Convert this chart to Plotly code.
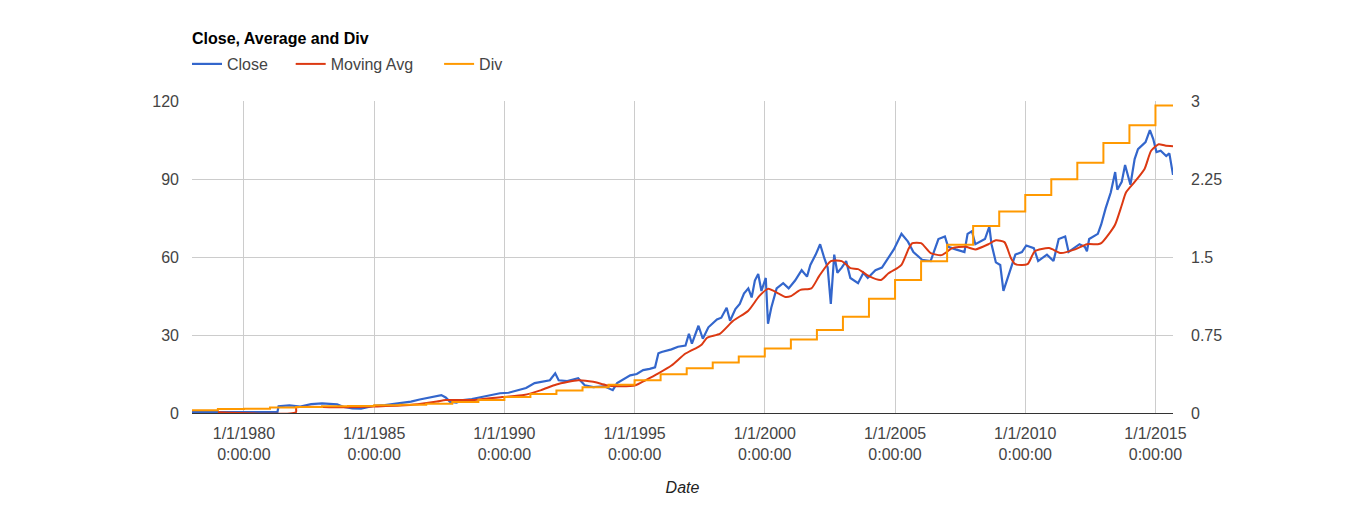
import plotly.graph_objects as go

# ---------------- data ----------------
close_dates = [
    "1978-01-03", "1979-06-01", "1981-04-15", "1981-05-01", "1981-10-01", "1982-03-01",
    "1982-08-01", "1983-01-01", "1983-05-01", "1983-08-01", "1983-11-01", "1984-03-01",
    "1984-07-01", "1984-10-01", "1985-01-01", "1985-06-01", "1985-10-01", "1986-02-01",
    "1986-06-01", "1986-10-01", "1987-02-01", "1987-05-01", "1987-08-01", "1987-10-01",
    "1987-12-01", "1988-03-01", "1988-06-01", "1988-10-01", "1989-03-01", "1989-07-01",
    "1989-11-01", "1990-03-01", "1990-07-01", "1990-11-01", "1991-03-01", "1991-07-01",
    "1991-10-01", "1991-12-15", "1992-02-01", "1992-06-01", "1992-11-01", "1993-02-01",
    "1993-06-01", "1993-11-01", "1994-03-01", "1994-05-01", "1994-08-01", "1994-11-01",
    "1995-02-01", "1995-05-01", "1995-08-01", "1995-10-15", "1995-12-01", "1996-01-15",
    "1996-06-01", "1996-09-01", "1996-12-15", "1997-02-01", "1997-03-15", "1997-06-15",
    "1997-08-15", "1997-11-01", "1998-03-01", "1998-05-01", "1998-07-15", "1998-09-01",
    "1998-11-15", "1999-01-15", "1999-03-15", "1999-05-15", "1999-07-01", "1999-08-15",
    "1999-10-01", "1999-11-15", "2000-01-15", "2000-02-15", "2000-04-01", "2000-06-15",
    "2000-09-15", "2000-12-01", "2001-03-01", "2001-06-01", "2001-08-15", "2001-10-01",
    "2001-12-15", "2002-02-15", "2002-04-15", "2002-06-01", "2002-07-15", "2002-09-01",
    "2002-10-15", "2002-12-15", "2003-02-15", "2003-04-15", "2003-08-01", "2003-10-15",
    "2003-12-15", "2004-04-01", "2004-07-01", "2004-10-01", "2004-12-15", "2005-04-01",
    "2005-07-01", "2005-09-15", "2006-01-15", "2006-05-15", "2006-09-01", "2006-12-01",
    "2007-01-15", "2007-05-01", "2007-09-01", "2007-10-15", "2007-12-15", "2008-02-01",
    "2008-06-15", "2008-08-15", "2008-09-15", "2008-11-15", "2009-01-15", "2009-03-01",
    "2009-05-15", "2009-08-15", "2009-11-15", "2010-01-15", "2010-05-01", "2010-07-01",
    "2010-11-01", "2011-02-01", "2011-04-15", "2011-07-15", "2011-09-01", "2012-02-01",
    "2012-04-15", "2012-05-15", "2012-06-15", "2012-10-15", "2012-12-01", "2013-02-01",
    "2013-04-15", "2013-06-15", "2013-07-15", "2013-09-15", "2013-11-01", "2014-01-15",
    "2014-03-15", "2014-05-01", "2014-08-15", "2014-10-15", "2014-12-01", "2015-01-15",
    "2015-03-15", "2015-06-01", "2015-07-15", "2015-09-04",
]
close_values = [
    0.3, 0.3, 0.3, 2.6, 2.9, 2.5,
    3.4, 3.7, 3.5, 3.3, 2.3, 1.8,
    1.7, 2.2, 2.8, 3.0, 3.4, 3.9,
    4.4, 5.2, 6.0, 6.3, 6.9, 6.0,
    4.3, 4.0, 5.0, 5.4, 6.2, 6.8,
    7.6, 7.8, 8.8, 9.6, 11.5, 12.2,
    12.6, 15.3, 12.6, 12.3, 13.4, 10.7,
    10.0, 10.3, 8.8, 11.5, 13.0, 14.5,
    15.0, 16.5, 17.0, 17.6, 23.0, 23.5,
    24.5, 25.5, 26.0, 30.5, 26.7, 33.6,
    28.6, 33.0, 36.0, 36.7, 40.5, 35.5,
    40.0, 42.0, 46.0, 48.0, 44.5, 51.0,
    53.5, 47.0, 52.0, 34.4, 40.5, 48.0,
    50.0, 48.0, 51.0, 55.0, 52.5, 57.0,
    61.0, 65.0, 59.6, 56.0, 42.0, 61.0,
    54.0, 56.0, 58.5, 52.0, 50.0, 54.0,
    52.0, 55.0, 56.0, 60.0, 63.0, 69.0,
    66.0, 62.0, 59.0, 58.5, 67.0, 68.0,
    64.0, 63.0, 62.0, 69.0, 70.0, 65.0,
    67.0, 71.8, 65.0, 58.0, 57.0, 47.0,
    53.5, 61.0, 62.0, 64.5, 63.5, 58.5,
    61.0, 58.5, 67.0, 68.0, 62.0, 65.0,
    64.0, 62.3, 67.0, 69.0, 72.6, 78.8,
    85.0, 92.8, 86.0, 89.0, 95.5, 87.9,
    97.8, 101.6, 104.3, 108.9, 105.5, 100.5,
    101.0, 99.0, 100.0, 91.7,
]

avg_dates = [
    "1979-01-01", "1981-12-31", "1982-01-05", "1983-06-01", "1984-06-01", "1985-01-01",
    "1986-01-01", "1986-09-01", "1987-06-01", "1987-10-01", "1988-10-01", "1989-12-01",
    "1990-10-01", "1991-06-01", "1992-01-01", "1992-11-01", "1993-06-01", "1993-12-01",
    "1994-05-01", "1995-01-15", "1995-06-01", "1995-12-01", "1996-06-01", "1996-12-15",
    "1997-06-15", "1997-08-01", "1997-10-15", "1998-04-15", "1998-10-15", "1999-05-15",
    "1999-10-15", "2000-02-15", "2000-07-15", "2000-10-15", "2001-01-01", "2001-05-15",
    "2001-10-15", "2002-02-01", "2002-07-15", "2002-12-15", "2003-04-15", "2003-08-01",
    "2004-01-01", "2004-06-15", "2004-10-01", "2005-02-01", "2005-04-01", "2005-07-15",
    "2005-09-01", "2006-01-01", "2006-05-15", "2006-10-15", "2007-03-15", "2007-09-15",
    "2008-02-01", "2008-08-01", "2008-11-15", "2009-03-15", "2009-06-15", "2009-08-15",
    "2010-02-01", "2010-05-15", "2010-12-01", "2011-05-15", "2011-12-01", "2012-05-15",
    "2012-10-15", "2012-12-01", "2013-03-15", "2013-06-15", "2013-09-15", "2013-11-15",
    "2014-03-15", "2014-08-01", "2014-11-01", "2015-02-15", "2015-05-15", "2015-09-04",
]
avg_values = [
    0.3, 0.3, 2.1, 2.2, 2.3, 2.5,
    2.9, 3.4, 4.4, 5.0, 5.0, 6.2,
    6.9, 8.8, 11.0, 12.6, 12.0, 10.7,
    10.3, 10.7, 12.6, 15.3, 18.3, 22.9,
    25.5, 26.4, 29.0, 30.6, 35.5, 39.4,
    45.0, 47.8, 46.0, 44.7, 45.0, 47.4,
    48.0, 52.7, 58.5, 58.5, 55.8, 55.4,
    52.7, 51.2, 53.8, 55.8, 57.0, 63.5,
    65.4, 65.4, 61.6, 60.8, 63.5, 64.0,
    63.0, 65.0, 66.5, 65.8, 59.6, 57.3,
    57.3, 62.3, 63.5, 61.6, 63.0, 65.0,
    65.0, 65.4, 68.8, 72.6, 80.0, 85.0,
    89.0, 94.0, 101.0, 103.5, 103.0, 102.7,
]

div_dates = [
    "1978-01-03", "1979-01-01", "1980-01-01", "1981-01-01", "1982-01-01", "1983-01-01",
    "1984-01-01", "1985-01-01", "1986-01-01", "1987-01-01", "1988-01-01", "1989-01-01",
    "1990-01-01", "1991-01-01", "1992-01-01", "1993-01-01", "1994-01-01", "1995-01-01",
    "1996-01-01", "1997-01-01", "1998-01-01", "1999-01-01", "2000-01-01", "2001-01-01",
    "2002-01-01", "2003-01-01", "2004-01-01", "2005-01-01", "2006-01-01", "2007-01-01",
    "2008-01-01", "2009-01-01", "2010-01-01", "2011-01-01", "2012-01-01", "2013-01-01",
    "2014-01-01", "2015-01-01", "2015-09-04",
]
div_values = [
    0.026, 0.038, 0.040, 0.054, 0.058, 0.064,
    0.068, 0.074, 0.080, 0.090, 0.105, 0.125,
    0.153, 0.184, 0.216, 0.248, 0.272, 0.315,
    0.373, 0.430, 0.487, 0.545, 0.620, 0.707,
    0.800, 0.927, 1.100, 1.280, 1.460, 1.620,
    1.800, 1.940, 2.100, 2.250, 2.410, 2.600,
    2.770, 2.960, 2.960,
]

x_tick_dates = ["1980-01-01", "1985-01-01", "1990-01-01", "1995-01-01",
                "2000-01-01", "2005-01-01", "2010-01-01", "2015-01-01"]
x_tick_labels = ["1/1/1980<br>0:00:00", "1/1/1985<br>0:00:00", "1/1/1990<br>0:00:00",
                 "1/1/1995<br>0:00:00", "1/1/2000<br>0:00:00", "1/1/2005<br>0:00:00",
                 "1/1/2010<br>0:00:00", "1/1/2015<br>0:00:00"]
left_ticks = [0, 30, 60, 90, 120]
right_ticks = [0, 0.75, 1.5, 2.25, 3]
right_tick_labels = ["0", "0.75", "1.5", "2.25", "3"]
series_names = ["Close", "Moving Avg", "Div"]

# ---------------- figure ----------------
# The page body has an 8px margin, so figure coordinates are offset by (8, 8).
FONT = "Arial, 'Liberation Sans', sans-serif"
W, H = 1366, 511
NB = "\u00a0"
legend_labels = [series_names[0] + NB * 4,
                 series_names[1] + NB * 4 + "\u2009",
                 series_names[2]]

fig = go.Figure()
fig.add_trace(go.Scatter(x=close_dates, y=close_values, name=legend_labels[0], mode="lines",
                         line=dict(color="#3366cc", width=2.2)))
fig.add_trace(go.Scatter(x=avg_dates, y=avg_values, name=legend_labels[1], mode="lines",
                         line=dict(color="#dc3912", width=2, shape="spline", smoothing=0.6)))
fig.add_trace(go.Scatter(x=div_dates, y=div_values, name=legend_labels[2], mode="lines",
                         yaxis="y2", line=dict(color="#ff9900", width=2, shape="hv")))

fig.update_layout(
    width=W, height=H,
    margin=dict(l=184, r=201, t=89, b=106),
    paper_bgcolor="white", plot_bgcolor="white",
    font=dict(family=FONT, size=16, color="#444444"),
    title=dict(text="<b>Close, Average and Div</b>", xref="container", yref="container",
               x=184 / W, xanchor="left", y=1 - 30 / H, yanchor="middle",
               font=dict(family=FONT, size=16, color="#000000")),
    legend=dict(orientation="h", xref="container", yref="container",
                x=179 / W, xanchor="left", y=1 - 56 / H, yanchor="middle",
                font=dict(family=FONT, size=16, color="#444444"),
                bgcolor="rgba(0,0,0,0)", itemwidth=30, traceorder="normal"),
    showlegend=True,
    xaxis=dict(type="date", range=["1978-01-03", "2015-09-04"],
               tickvals=x_tick_dates, ticktext=x_tick_labels,
               showgrid=True, gridcolor="#cccccc", gridwidth=1,
               showline=True, linecolor="#333333", linewidth=1,
               zeroline=False, ticks="", ticklabelstandoff=6,
               title=dict(text="<i>Date</i>", font=dict(family=FONT, size=16, color="#222222"),
                          standoff=19)),
    yaxis=dict(range=[0, 120], tickvals=left_ticks, showgrid=True, gridcolor="#cccccc",
               zeroline=False, showline=False, ticks="", ticklabelstandoff=12),
    yaxis2=dict(range=[0, 3], tickvals=right_ticks, ticktext=right_tick_labels,
                overlaying="y", side="right", showgrid=False, zeroline=False,
                showline=False, ticks="", ticklabelstandoff=17),
    hovermode=False,
)

fig.write_html("out.html")
